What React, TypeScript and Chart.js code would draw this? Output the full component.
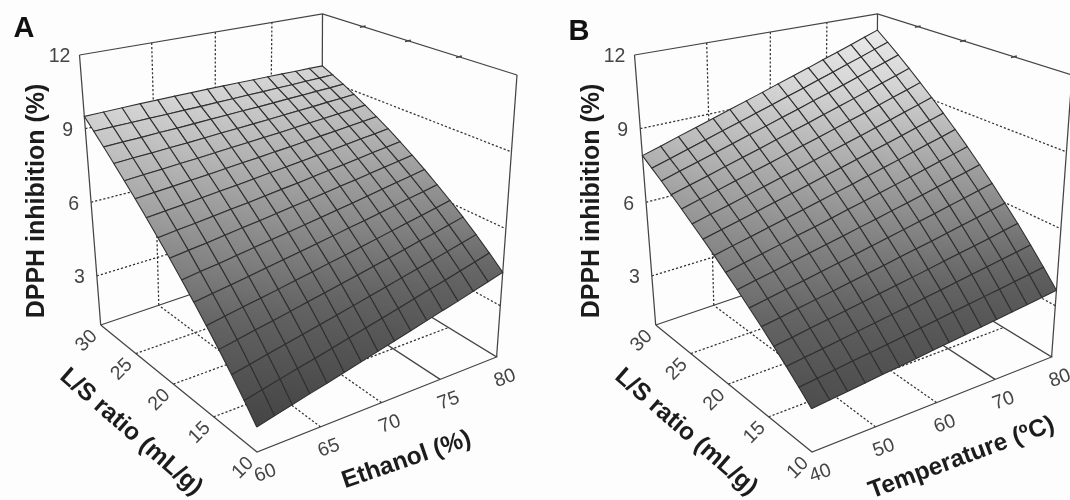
import { useEffect, useRef } from "react";
import { Chart, registerables } from "chart.js";
Chart.register(...registerables);

const lsTicks = [10, 15, 20, 25, 30];
const ethanolTicks = [60, 65, 70, 75, 80];
const temperatureTicks = [40, 50, 60, 70, 80];
const zTicks = [3, 6, 9, 12];
const Z_MIN = 1, Z_MAX = 12;

// DPPH inhibition: rows run L/S 10 -> 30, columns ethanol 60 -> 80
const surfaceA: number[][] = [
  [1.92, 2.08, 2.24, 2.40, 2.55, 2.71, 2.87, 3.03, 3.19, 3.35, 3.51, 3.67, 3.82, 3.98, 4.14, 4.30],
  [2.55, 2.70, 2.85, 3.00, 3.14, 3.29, 3.44, 3.59, 3.74, 3.89, 4.04, 4.19, 4.33, 4.48, 4.63, 4.78],
  [3.16, 3.30, 3.44, 3.58, 3.71, 3.85, 3.99, 4.13, 4.27, 4.41, 4.55, 4.69, 4.82, 4.96, 5.10, 5.24],
  [3.76, 3.89, 4.02, 4.14, 4.27, 4.40, 4.53, 4.66, 4.78, 4.91, 5.04, 5.17, 5.30, 5.42, 5.55, 5.68],
  [4.33, 4.45, 4.57, 4.68, 4.80, 4.92, 5.04, 5.16, 5.27, 5.39, 5.51, 5.63, 5.75, 5.86, 5.98, 6.10],
  [4.89, 5.00, 5.10, 5.21, 5.32, 5.43, 5.53, 5.64, 5.75, 5.86, 5.96, 6.07, 6.18, 6.29, 6.39, 6.50],
  [5.43, 5.53, 5.62, 5.72, 5.82, 5.92, 6.01, 6.11, 6.21, 6.31, 6.40, 6.50, 6.60, 6.70, 6.79, 6.89],
  [5.96, 6.05, 6.13, 6.22, 6.31, 6.39, 6.48, 6.57, 6.65, 6.74, 6.83, 6.91, 7.00, 7.09, 7.17, 7.26],
  [6.46, 6.54, 6.61, 6.69, 6.77, 6.84, 6.92, 7.00, 7.07, 7.15, 7.23, 7.30, 7.38, 7.46, 7.53, 7.61],
  [6.95, 7.02, 7.08, 7.15, 7.22, 7.28, 7.35, 7.42, 7.48, 7.55, 7.62, 7.68, 7.75, 7.82, 7.88, 7.95],
  [7.42, 7.48, 7.53, 7.59, 7.64, 7.70, 7.76, 7.81, 7.87, 7.92, 7.98, 8.04, 8.09, 8.15, 8.20, 8.26],
  [7.87, 7.92, 7.96, 8.01, 8.05, 8.10, 8.15, 8.19, 8.24, 8.28, 8.33, 8.38, 8.42, 8.47, 8.51, 8.56],
  [8.30, 8.34, 8.37, 8.41, 8.44, 8.48, 8.52, 8.55, 8.59, 8.62, 8.66, 8.70, 8.73, 8.77, 8.80, 8.84],
  [8.72, 8.75, 8.77, 8.80, 8.82, 8.85, 8.88, 8.90, 8.93, 8.95, 8.98, 9.01, 9.03, 9.06, 9.08, 9.11],
  [9.12, 9.14, 9.15, 9.17, 9.18, 9.20, 9.21, 9.23, 9.24, 9.26, 9.27, 9.29, 9.30, 9.32, 9.33, 9.35],
  [9.50, 9.52, 9.54, 9.56, 9.57, 9.58, 9.59, 9.60, 9.60, 9.60, 9.60, 9.60, 9.60, 9.59, 9.59, 9.58],
];

// DPPH inhibition: rows run L/S 10 -> 30, columns temperature 40 -> 80
const surfaceB: number[][] = [
  [2.60, 2.67, 2.73, 2.80, 2.87, 2.93, 3.00, 3.07, 3.13, 3.20, 3.27, 3.33, 3.40, 3.47, 3.53, 3.60],
  [3.04, 3.12, 3.20, 3.28, 3.35, 3.43, 3.51, 3.59, 3.67, 3.75, 3.83, 3.91, 3.98, 4.06, 4.14, 4.22],
  [3.47, 3.56, 3.65, 3.74, 3.83, 3.92, 4.01, 4.10, 4.20, 4.29, 4.38, 4.47, 4.56, 4.65, 4.74, 4.83],
  [3.88, 3.98, 4.09, 4.19, 4.29, 4.39, 4.50, 4.60, 4.70, 4.80, 4.91, 5.01, 5.11, 5.21, 5.32, 5.42],
  [4.29, 4.40, 4.52, 4.63, 4.74, 4.86, 4.97, 5.08, 5.20, 5.31, 5.42, 5.54, 5.65, 5.76, 5.88, 5.99],
  [4.68, 4.80, 4.93, 5.05, 5.18, 5.30, 5.43, 5.55, 5.68, 5.80, 5.93, 6.05, 6.18, 6.30, 6.43, 6.55],
  [5.06, 5.20, 5.33, 5.47, 5.60, 5.74, 5.87, 6.01, 6.14, 6.28, 6.41, 6.55, 6.68, 6.82, 6.95, 7.09],
  [5.42, 5.57, 5.71, 5.86, 6.01, 6.15, 6.30, 6.45, 6.59, 6.74, 6.89, 7.03, 7.18, 7.33, 7.47, 7.62],
  [5.78, 5.94, 6.09, 6.25, 6.41, 6.56, 6.72, 6.88, 7.03, 7.19, 7.35, 7.50, 7.66, 7.82, 7.97, 8.13],
  [6.12, 6.29, 6.45, 6.62, 6.79, 6.95, 7.12, 7.29, 7.45, 7.62, 7.79, 7.95, 8.12, 8.29, 8.45, 8.62],
  [6.44, 6.62, 6.79, 6.97, 7.15, 7.33, 7.50, 7.68, 7.86, 8.04, 8.21, 8.39, 8.57, 8.75, 8.92, 9.10],
  [6.76, 6.95, 7.13, 7.32, 7.51, 7.69, 7.88, 8.07, 8.25, 8.44, 8.63, 8.81, 9.00, 9.19, 9.37, 9.56],
  [7.06, 7.26, 7.45, 7.65, 7.85, 8.04, 8.24, 8.44, 8.63, 8.83, 9.03, 9.22, 9.42, 9.62, 9.81, 10.01],
  [7.36, 7.57, 7.77, 7.98, 8.18, 8.39, 8.59, 8.80, 9.00, 9.21, 9.41, 9.62, 9.82, 10.03, 10.23, 10.44],
  [7.63, 7.84, 8.06, 8.27, 8.49, 8.70, 8.92, 9.13, 9.35, 9.56, 9.78, 9.99, 10.21, 10.42, 10.64, 10.85],
  [7.90, 8.12, 8.35, 8.57, 8.79, 9.02, 9.24, 9.46, 9.69, 9.91, 10.13, 10.36, 10.58, 10.80, 11.03, 11.25],
];

type P = { x: number; y: number };
const F: P = { x: 257, y: 452 }, R: P = { x: 496.6, y: 357 }, Bk: P = { x: 321.5, y: 250 }, L: P = { x: 100.7, y: 325 };
const TF: P = { x: 254, y: 154 }, TR: P = { x: 517, y: 75 }, TB: P = { x: 322.5, y: 14 }, TL: P = { x: 79.5, y: 55 };

function homography(p0: P, p1: P, p2: P, p3: P) {
  const dx1 = p1.x - p2.x, dx2 = p3.x - p2.x, sx = p0.x - p1.x + p2.x - p3.x;
  const dy1 = p1.y - p2.y, dy2 = p3.y - p2.y, sy = p0.y - p1.y + p2.y - p3.y;
  const den = dx1 * dy2 - dx2 * dy1;
  const g = (sx * dy2 - dx2 * sy) / den, h = (dx1 * sy - sx * dy1) / den;
  const a = p1.x - p0.x + g * p1.x, b = p3.x - p0.x + h * p3.x, c = p0.x;
  const d = p1.y - p0.y + g * p1.y, e = p3.y - p0.y + h * p3.y, f = p0.y;
  return (u: number, v: number): P => {
    const w = g * u + h * v + 1;
    return { x: (a * u + b * v + c) / w, y: (d * u + e * v + f) / w };
  };
}
const floorH = homography(F, R, Bk, L);
const topH = homography(TF, TR, TB, TL);
function project(u: number, v: number, z: number): P {
  const a = floorH(u, v), b = topH(u, v), t = (z - Z_MIN) / (Z_MAX - Z_MIN);
  return { x: a.x + (b.x - a.x) * t, y: a.y + (b.y - a.y) * t };
}

const GRAY_Z = [1.9, 4.3, 5.5, 7.4, 9.5, 11.2];
const GRAY_V = [68, 98, 126, 168, 212, 234];
function gray(z: number) {
  let g = z <= GRAY_Z[0] ? GRAY_V[0] : GRAY_V[GRAY_V.length - 1];
  for (let k = 0; k < GRAY_Z.length - 1; k++) {
    if (z >= GRAY_Z[k] && z <= GRAY_Z[k + 1]) g = GRAY_V[k] + ((z - GRAY_Z[k]) / (GRAY_Z[k + 1] - GRAY_Z[k])) * (GRAY_V[k + 1] - GRAY_V[k]);
  }
  g = Math.round(g);
  return `rgb(${g},${g},${g})`;
}

function buildDatasets(surface: number[][], ctx: CanvasRenderingContext2D, xMin: number) {
  const ds: any[] = [];
  const line = (pts: P[], dash: boolean, width = 1.25) => ds.push({
    data: pts, showLine: true, borderColor: dash ? "#333" : "#444", borderWidth: width, borderDash: dash ? [2.2, 2] : [],
    pointRadius: 0, fill: false, clip: false, order: 5,
  });
  for (let j = 0; j < 15; j++) for (let i = 0; i < 15; i++) {
    const zs = [surface[j][i], surface[j][i + 1], surface[j + 1][i + 1], surface[j + 1][i]];
    const p = [project(i / 15, j / 15, zs[0]), project((i + 1) / 15, j / 15, zs[1]), project((i + 1) / 15, (j + 1) / 15, zs[2]), project(i / 15, (j + 1) / 15, zs[3])];
    let lo = 0, hi = 0;
    zs.forEach((z, k) => { if (z < zs[lo]) lo = k; if (z > zs[hi]) hi = k; });
    const grad = ctx.createLinearGradient(p[lo].x - xMin, p[lo].y, p[hi].x - xMin, p[hi].y);
    grad.addColorStop(0, gray(zs[lo]));
    grad.addColorStop(1, gray(zs[hi]));
    ds.push({ data: [...p, p[0]], showLine: true, fill: "shape", backgroundColor: grad, borderColor: "#303030", borderWidth: 1.1, pointRadius: 0, clip: false, order: 0, tension: 0 });
  }
  const fr = (k: number) => k / 4;
  line([project(0, 1, Z_MAX), project(1, 1, Z_MAX), project(1, 0, Z_MAX)], false);
  line([project(0, 1, Z_MIN), project(0, 1, Z_MAX)], false);
  line([project(1, 1, Z_MIN), project(1, 1, Z_MAX)], false);
  line([project(1, 0, Z_MIN), project(1, 0, Z_MAX)], false);
  line([project(0, 1, Z_MIN), project(0, 0, Z_MIN), project(1, 0, Z_MIN), project(1, 1, Z_MIN), project(0, 1, Z_MIN)], false);
  lsTicks.forEach((_, k) => {
    if (k > 0 && k < 4) {
      line([project(0, fr(k), Z_MIN), project(1, fr(k), Z_MIN)], true);
      line([project(1 - 0.015, fr(k), Z_MAX), project(1 + 0.015, fr(k), Z_MAX)], false, 1.5);
    }
  });
  ethanolTicks.forEach((_, k) => {
    if (k > 0 && k < 4) {
      line([project(fr(k), 0, Z_MIN), project(fr(k), 1, Z_MIN)], k !== 3);
      line([project(fr(k), 1, Z_MIN), project(fr(k), 1, Z_MAX)], true);
    }
  });
  zTicks.slice(0, 3).forEach((z) => {
    line([project(0, 1, z), project(1, 1, z), project(1, 0, z)], true);
  });
  return ds;
}

function Panel({ letter, letterY, surface, xTicks, xTitle, left, xMin }: { letter: string; letterY: number; surface: number[][]; xTicks: number[]; xTitle: string; left: number; xMin: number }) {
  const ref = useRef<HTMLCanvasElement>(null);
  useEffect(() => {
    const textPlugin = {
      id: "boxText",
      afterDatasetsDraw(chart: any) {
        const { ctx, scales } = chart;
        const put = (s: string, px: number, py: number, font: string, color: string, deg = 0) => {
          ctx.save();
          ctx.translate(scales.x.getPixelForValue(px), scales.y.getPixelForValue(py));
          ctx.rotate((deg * Math.PI) / 180);
          ctx.font = font; ctx.fillStyle = color; ctx.textAlign = "center"; ctx.textBaseline = "middle";
          ctx.fillText(s, 0, 0);
          ctx.restore();
        };
        const tick = '19.5px "Liberation Sans"';
        const bold = 'bold 24.5px "Liberation Sans"';
        const col = "#454545";
        zTicks.forEach((z) => { const p = project(0, 1, z); put(String(z), p.x - (z === 12 ? 20 : 17.5), p.y + 2, tick, col); });
        lsTicks.forEach((t, k) => { const p = project(0, k / 4, Z_MIN); put(String(t), p.x - 14, p.y + 16, tick, col, -45); });
        xTicks.forEach((t, k) => { const p = project(k / 4, 0, Z_MIN); put(String(t), p.x + 8.4, p.y + 21.5, tick, col, -20); });
        put("DPPH inhibition (%)", 37, 201, 'bold 25px "Liberation Sans"', "#1c1c1c", -90);
        put("L/S ratio (mL/g)", 131, 432, bold, "#1c1c1c", 41);
        if (xTitle.startsWith("E")) put(xTitle, 406.5, 460, bold, "#1c1c1c", -19);
        else put(xTitle, 406.6, 458, bold, "#1c1c1c", -20.4);
        put(letter, 24, letterY, 'bold 29px "Liberation Sans"', "#111");
      },
    };
    const canvas = ref.current!;
    const chart = new Chart(canvas, {
      type: "scatter",
      data: { datasets: buildDatasets(surface, canvas.getContext("2d")!, xMin) },
      options: {
        animation: false, responsive: false,
        layout: { padding: 0 },
        plugins: { legend: { display: false }, tooltip: { enabled: false } },
        scales: {
          x: { type: "linear", display: false, min: xMin, max: xMin + 535 },
          y: { type: "linear", display: false, min: 0, max: 500, reverse: true },
        },
      },
      plugins: [textPlugin],
    } as any);
    return () => chart.destroy();
  }, []);
  return <canvas ref={ref} width={535} height={500} style={{ position: "absolute", left, top: 0, width: 535, height: 500, filter: "blur(0.4px)" }} />;
}

export default function App() {
  return (
    <div style={{ position: "absolute", left: 0, top: 0, width: 1070, height: 500, background: "#fdfdfd", overflow: "hidden" }}>
      <Panel letter="A" letterY={29} surface={surfaceA} xTicks={ethanolTicks} xTitle="Ethanol (%)" left={0} xMin={0} />
      <Panel letter="B" letterY={32} surface={surfaceB} xTicks={temperatureTicks} xTitle="Temperature (ºC)" left={535} xMin={-20} />
    </div>
  );
}
